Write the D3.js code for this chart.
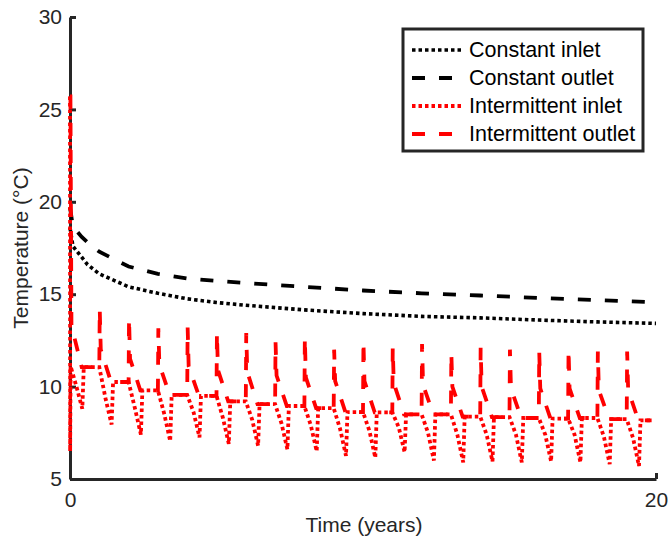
<!doctype html>
<html>
<head>
<meta charset="utf-8"/>
<script src="https://cdnjs.cloudflare.com/ajax/libs/d3/7.8.5/d3.min.js"></script>
<style>
  body { margin: 0; background: #fff; }
  svg { font-family: "Liberation Sans", Arial, sans-serif; }
  .axis path, .axis line { stroke: #262626; stroke-width: 3px; }
  .axis text { fill: #262626; font-size: 21px; }
  .label { fill: #262626; font-size: 21px; }
  .legend text { fill: #000; font-size: 21.5px; }
</style>
</head>
<body>
<svg width="670" height="543"></svg>
<script>
// constant operation (years, degC)
var constTime   = [0, 0.1, 0.4, 0.6, 1, 2, 3, 4, 5, 6, 8, 10, 12, 14, 16, 18, 20];
var constInlet  = [18.6, 17.6, 17.0, 16.6, 16.1, 15.4, 15.05, 14.75, 14.55, 14.4, 14.15, 13.95, 13.8, 13.72, 13.6, 13.5, 13.42];
var constOutlet = [19.7, 18.65, 18.1, 17.8, 17.3, 16.5, 16.1, 15.85, 15.72, 15.6, 15.4, 15.2, 15.05, 14.93, 14.8, 14.68, 14.56];

// intermittent operation, one entry per yearly cycle
var cycleYears   = [0, 1, 2, 3, 4, 5, 6, 7, 8, 9, 10, 11, 12, 13, 14, 15, 16, 17, 18, 19];
var outletPeak   = [25.7, 14.2, 13.7, 13.15, 13.2, 12.9, 12.9, 12.4, 12.65, 12.0, 12.45, 12.1, 12.3, 11.8, 12.1, 12.0, 11.9, 12.0, 11.9, 11.9];
var outletDrop   = [13.3, 12.0, 11.5, 11.2, 11.1, 10.9, 10.8, 10.6, 10.5, 10.3, 10.3, 10.2, 10.1, 10.0, 10.0, 9.9, 9.9, 9.9, 9.8, 9.8];
var restLevel    = [11.05, 10.25, 9.8, 9.55, 9.5, 9.2, 9.05, 8.95, 8.83, 8.62, 8.6, 8.5, 8.5, 8.38, 8.35, 8.3, 8.27, 8.3, 8.24, 8.17];
var inletMin     = [8.8, 7.95, 7.4, 7.05, 7.25, 6.9, 6.8, 6.6, 6.5, 6.25, 6.15, 6.45, 6.0, 5.9, 5.95, 5.9, 5.95, 5.9, 5.8, 5.7];
var inletMid     = [10.0, 9.3, 8.8, 8.5, 8.6, 8.3, 8.2, 8.0, 7.9, 7.7, 7.6, 7.8, 7.5, 7.4, 7.4, 7.4, 7.4, 7.4, 7.3, 7.2];
var firstInletDip = 6.5;
// timing inside a cycle (fraction of a year)
var peakAt = 0.015, dropAt = 0.05, settleAt = 0.4, midAt = 0.22, minAt = 0.42, recoverAt = 0.47, cycleEnd = 1;

var seriesNames = ["Constant inlet", "Constant outlet", "Intermittent inlet", "Intermittent outlet"];
var seriesColors = ["#000", "#000", "#f00", "#f00"];
var seriesDash = ["3.5,3", "13,14", "3.5,3", "13,14"];
var seriesWidth = [3.6, 3.8, 3.8, 3.8];

var svg = d3.select("svg");
var x = d3.scaleLinear().domain([0, 20]).range([70, 656]);
var y = d3.scaleLinear().domain([5, 30]).range([479, 17]);

svg.append("g").attr("class", "axis")
  .attr("transform", "translate(0,479)")
  .call(d3.axisBottom(x).tickValues([0, 20]).tickSize(-6).tickSizeOuter(0).tickPadding(13));
svg.append("g").attr("class", "axis")
  .attr("transform", "translate(70,0)")
  .call(d3.axisLeft(y).tickValues([5, 10, 15, 20, 25, 30]).tickSize(-6).tickSizeOuter(0).tickPadding(8));

svg.append("text").attr("class", "label")
  .attr("x", 364).attr("y", 532).attr("text-anchor", "middle")
  .text("Time (years)");
svg.append("text").attr("class", "label")
  .attr("transform", "translate(21,248) rotate(-90)")
  .attr("dy", "0.35em").attr("text-anchor", "middle")
  .text("Temperature (°C)");

// build point lists
var inletPts = [], outletPts = [];
cycleYears.forEach(function(k, i) {
  var before = i === 0 ? outletPeak[0] : restLevel[i - 1];
  outletPts.push([k, before], [k + peakAt, outletPeak[i]], [k + dropAt, outletDrop[i]],
                 [k + settleAt, restLevel[i]], [k + cycleEnd, restLevel[i]]);
  if (i === 0) {
    inletPts.push([k, before], [k + 0.005, firstInletDip], [k + 0.02, outletDrop[i] - 2.2]);
  } else {
    inletPts.push([k, before]);
  }
  inletPts.push([k + midAt, inletMid[i]], [k + minAt, inletMin[i]], [k + recoverAt, restLevel[i]], [k + cycleEnd, restLevel[i]]);
});
outletPts[outletPts.length - 1][0] = 19.85;
inletPts[inletPts.length - 1][0] = 19.85;

var data = [
  constTime.map(function(t, i) { return [t, constInlet[i]]; }),
  constTime.map(function(t, i) { return [t, constOutlet[i]]; }),
  inletPts,
  outletPts
];

var line = d3.line().x(function(d) { return x(d[0]); }).y(function(d) { return y(d[1]); });

svg.append("g").selectAll("path")
  .data(data)
  .enter()
  .append("path")
  .attr("d", line)
  .attr("fill", "none")
  .attr("stroke", function(d, i) { return seriesColors[i]; })
  .attr("stroke-width", function(d, i) { return seriesWidth[i]; })
  .attr("stroke-dasharray", function(d, i) { return seriesDash[i]; });

// legend
var legend = svg.append("g").attr("class", "legend");
legend.append("rect")
  .attr("x", 403).attr("y", 29).attr("width", 240).attr("height", 122)
  .attr("fill", "#fff").attr("stroke", "#262626").attr("stroke-width", 3);
var rows = legend.selectAll("g.row")
  .data(seriesNames)
  .enter()
  .append("g")
  .attr("class", "row")
  .attr("transform", function(d, i) { return "translate(0," + (49 + i * 28) + ")"; });
rows.append("line")
  .attr("x1", 412).attr("x2", 462).attr("y1", 1).attr("y2", 1)
  .attr("stroke", function(d, i) { return seriesColors[i]; })
  .attr("stroke-width", function(d, i) { return seriesWidth[i]; })
  .attr("stroke-dasharray", function(d, i) { return seriesDash[i]; });
rows.append("text")
  .attr("x", 469).attr("dy", "0.35em")
  .text(function(d) { return d; });
</script>
</body>
</html>
